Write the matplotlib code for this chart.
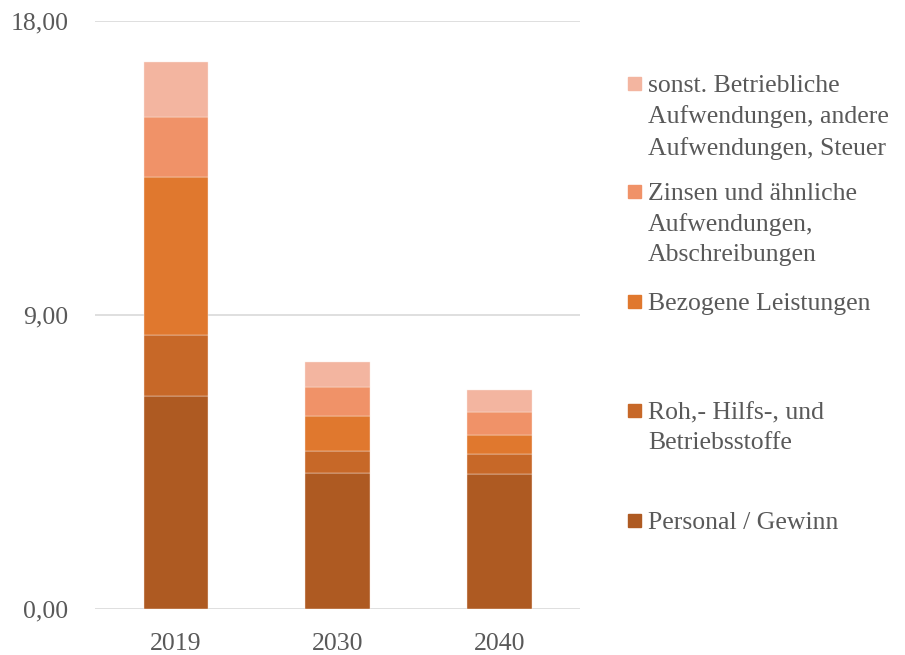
import matplotlib
matplotlib.use("Agg")
import matplotlib.pyplot as plt
from matplotlib.patches import Rectangle

years = ["2019", "2030", "2040"]
series_names = [
    "Personal / Gewinn",
    "Roh,- Hilfs-, und\nBetriebsstoffe",
    "Bezogene Leistungen",
    "Zinsen und ähnliche\nAufwendungen,\nAbschreibungen",
    "sonst. Betriebliche\nAufwendungen, andere\nAufwendungen, Steuer",
]
personal = [6.52, 4.17, 4.12]
roh = [1.87, 0.67, 0.63]
bezogene = [4.83, 1.07, 0.58]
zinsen = [1.84, 0.87, 0.70]
sonst = [1.67, 0.77, 0.66]
series_values = [personal, roh, bezogene, zinsen, sonst]
colors = ["#AE5A22", "#C76828", "#E0782E", "#F09268", "#F3B5A0"]
yticks = [0, 9, 18]
ytick_labels = ["0,00", "9,00", "18,00"]

plt.rcParams["font.family"] = ["Liberation Serif", "DejaVu Serif"]
fig = plt.figure(figsize=(9.05, 6.55), dpi=100)
ax = fig.add_axes([95 / 905, 1 - 609 / 655, (580 - 95) / 905, (609 - 20.7) / 655])

x = list(range(len(years)))
bottom = [0.0] * len(years)
for vals, col in zip(series_values, colors):
    ax.bar(x, vals, width=0.4, bottom=bottom, color=col, edgecolor="#FBE9E0",
           linewidth=0.3, zorder=3)
    bottom = [b + v for b, v in zip(bottom, vals)]

ax.set_xlim(-0.5, 2.5)
ax.set_ylim(0, 18)
ax.set_yticks(yticks)
ax.set_yticklabels(ytick_labels)
ax.set_xticks(x)
ax.set_xticklabels(years)
ax.grid(axis="y", color="#D9D9D9", linewidth=1.2, zorder=0)
for s in ax.spines.values():
    s.set_visible(False)
ax.tick_params(axis="both", length=0, labelsize=18.5, colors="#595959")
ax.tick_params(axis="y", pad=19)
ax.tick_params(axis="x", pad=17)

# legend (manual, top entry first)
marker_y = [84, 192, 302, 411, 521]
order = list(range(len(series_names)))[::-1]
for my, idx in zip(marker_y, order):
    fig.patches.append(Rectangle((628 / 905, 1 - (my + 6) / 655), 13 / 905, 13 / 655,
                                 transform=fig.transFigure, color=colors[idx]))
    fig.text(648 / 905, 1 - (my - 9) / 655, series_names[idx], fontsize=18.5,
             color="#595959", va="top", ha="left", linespacing=1.47,
             transform=fig.transFigure)

fig.savefig("out.png", dpi=100)
